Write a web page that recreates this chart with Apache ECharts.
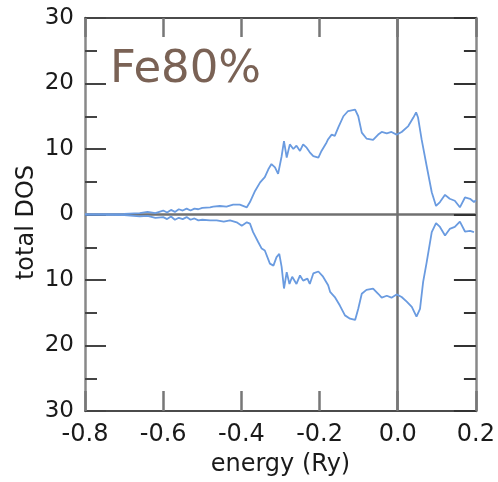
<!DOCTYPE html>
<html>
<head>
<meta charset="utf-8">
<script src="https://cdn.jsdelivr.net/npm/echarts@6/dist/echarts.min.js"></script>
<style>
  html, body { margin: 0; padding: 0; background: #fff; }
  #chart { width: 498px; height: 482px; }
</style>
</head>
<body>
<div id="chart"></div>
<script>
// energy (Ry) / total DOS, upper (spin up) branch
var energyUp = [-0.80, -0.70, -0.66, -0.64, -0.62, -0.60, -0.59, -0.58, -0.57, -0.56, -0.55, -0.54, -0.53, -0.52, -0.51, -0.50,
  -0.48, -0.472, -0.455, -0.438, -0.421, -0.404, -0.386, -0.378, -0.365, -0.352, -0.340, -0.331, -0.323, -0.314, -0.306,
  -0.297, -0.291, -0.284, -0.276, -0.267, -0.259, -0.250, -0.242, -0.233, -0.225, -0.216, -0.203, -0.195, -0.182, -0.178,
  -0.169, -0.161, -0.152, -0.139, -0.127, -0.109, -0.101, -0.092, -0.080, -0.063, -0.050, -0.041, -0.028, -0.016, -0.003,
  0.010, 0.027, 0.040, 0.047, 0.052, 0.061, 0.074, 0.087, 0.098, 0.108, 0.121, 0.133, 0.146, 0.159, 0.172, 0.185, 0.195, 0.200]
var dosUp = [0, 0.1, 0.2, 0.4, 0.2, 0.6, 0.3, 0.7, 0.4, 0.8, 0.6, 0.9, 0.6, 0.9, 0.8, 1.0,
  1.1, 1.2, 1.3, 1.2, 1.5, 1.5, 1.1, 1.9, 3.6, 4.9, 5.7, 6.9, 7.7, 7.2, 6.2,
  8.9, 11.2, 8.7, 10.7, 10.0, 10.5, 9.7, 10.7, 10.2, 9.5, 8.9, 8.7, 9.7, 11.0, 11.5,
  12.2, 12.0, 13.3, 15.0, 15.8, 16.0, 15.0, 12.5, 11.6, 11.4, 12.2, 12.6, 12.4, 12.6, 12.2,
  12.6, 13.5, 14.8, 15.6, 14.8, 11.5, 7.4, 3.4, 1.3, 1.9, 3.0, 2.4, 2.1, 1.1, 2.6, 2.4, 1.9, 2.2]

// lower (spin down) branch, magnitudes
var energyDown = [-0.80, -0.70, -0.66, -0.64, -0.62, -0.60, -0.59, -0.58, -0.57, -0.56, -0.55, -0.54, -0.53, -0.52, -0.51, -0.50,
  -0.48, -0.463, -0.445, -0.429, -0.412, -0.399, -0.386, -0.378, -0.370, -0.357, -0.348, -0.340, -0.327, -0.318, -0.310,
  -0.303, -0.297, -0.291, -0.284, -0.277, -0.270, -0.259, -0.250, -0.242, -0.231, -0.225, -0.216, -0.203, -0.191, -0.178,
  -0.173, -0.161, -0.148, -0.135, -0.122, -0.109, -0.101, -0.092, -0.080, -0.063, -0.050, -0.041, -0.028, -0.016, -0.003,
  0.010, 0.023, 0.036, 0.048, 0.057, 0.065, 0.074, 0.087, 0.098, 0.108, 0.121, 0.133, 0.146, 0.159, 0.172, 0.185, 0.195, 0.200]
var dosDown = [0, 0.1, 0.3, 0.2, 0.5, 0.4, 0.7, 0.3, 0.8, 0.5, 0.7, 0.4, 0.8, 0.6, 0.9, 0.8,
  0.9, 0.9, 1.1, 0.9, 1.2, 1.7, 1.2, 1.4, 2.7, 4.2, 5.2, 5.5, 7.5, 7.8, 6.5,
  6.0, 8.0, 11.3, 8.8, 10.6, 9.5, 10.6, 9.3, 10.1, 9.8, 10.6, 9.0, 8.7, 9.5, 10.8,
  11.8, 12.6, 13.9, 15.4, 15.9, 16.1, 14.4, 12.1, 11.5, 11.3, 12.1, 12.7, 12.4, 12.7, 12.2,
  12.6, 13.3, 14.1, 15.6, 14.4, 10.3, 7.3, 2.7, 1.3, 1.9, 3.2, 2.2, 1.9, 1.1, 2.6, 2.5, 2.7]

var label = 'Fe80%'

var upData = energyUp.map(function (e, i) { return [e, dosUp[i]] })
var downData = energyDown.map(function (e, i) { return [e, -dosDown[i]] })

var chart = echarts.init(document.getElementById('chart'))

var lineColor = '#6a9be0'
var font = 'DejaVu Sans, sans-serif'

chart.setOption({
  animation: false,
  grid: { left: 85, right: 22, top: 18, bottom: 69 },
  graphic: [{
    type: 'text',
    left: 110,
    top: 48,
    style: { text: label, font: '45px "DejaVu Sans", sans-serif', fill: '#7a6255' }
  }],
  xAxis: [{
    type: 'value',
    min: -0.8,
    max: 0.2,
    interval: 0.2,
    name: 'energy (Ry)',
    nameLocation: 'middle',
    nameGap: 42,
    nameTextStyle: { fontSize: 24, color: '#1a1a1a', fontFamily: font },
    axisLine: { onZero: false, lineStyle: { color: '#111', width: 1.5 } },
    axisTick: { inside: true, length: 20, lineStyle: { color: '#777', width: 2.5 } },
    axisLabel: {
      fontSize: 24, color: '#1a1a1a', fontFamily: font, margin: 12,
      formatter: function (v) { return v.toFixed(1) }
    },
    splitLine: { show: false }
  }, {
    type: 'value',
    position: 'top',
    min: -0.8,
    max: 0.2,
    interval: 0.2,
    axisLine: { onZero: false, lineStyle: { color: '#111', width: 1.5 } },
    axisTick: { inside: true, length: 19, lineStyle: { color: '#777', width: 2.5 } },
    axisLabel: { show: false },
    splitLine: { show: false }
  }],
  yAxis: [{
    type: 'value',
    min: -30,
    max: 30,
    interval: 10,
    name: 'total DOS',
    nameLocation: 'middle',
    nameGap: 46,
    nameMoveOverlap: false,
    nameTextStyle: { fontSize: 24, color: '#1a1a1a', fontFamily: font, padding: [0, 16, 0, 0] },
    axisLine: { onZero: false, lineStyle: { color: '#888', width: 2.5 } },
    axisTick: { inside: true, length: 21, lineStyle: { color: '#444', width: 2 } },
    minorTick: { show: true, splitNumber: 2, length: 12, lineStyle: { color: '#444', width: 2 } },
    axisLabel: {
      fontSize: 23, color: '#1a1a1a', fontFamily: font, margin: 11,
      formatter: function (v) { return Math.abs(v) }
    },
    splitLine: { show: false }
  }, {
    type: 'value',
    position: 'right',
    min: -30,
    max: 30,
    interval: 10,
    axisLine: { onZero: false, lineStyle: { color: '#888', width: 2.5 } },
    axisTick: { inside: true, length: 22, lineStyle: { color: '#333', width: 2 } },
    minorTick: { show: true, splitNumber: 2, length: 12, lineStyle: { color: '#333', width: 2 } },
    axisLabel: { show: false },
    splitLine: { show: false }
  }],
  series: [{
    type: 'line',
    data: [],
    z: 0,
    markLine: {
      silent: true,
      z: 0,
      symbol: 'none',
      label: { show: false },
      lineStyle: { color: '#707070', width: 2.5, type: 'solid' },
      data: [{ yAxis: 0 }, { xAxis: 0 }]
    }
  }, {
    name: 'up',
    type: 'line',
    data: upData,
    showSymbol: false,
    z: 5,
    lineStyle: { color: lineColor, width: 1.8 }
  }, {
    name: 'down',
    type: 'line',
    data: downData,
    showSymbol: false,
    z: 5,
    lineStyle: { color: lineColor, width: 1.8 }
  }]
})
</script>
</body>
</html>
